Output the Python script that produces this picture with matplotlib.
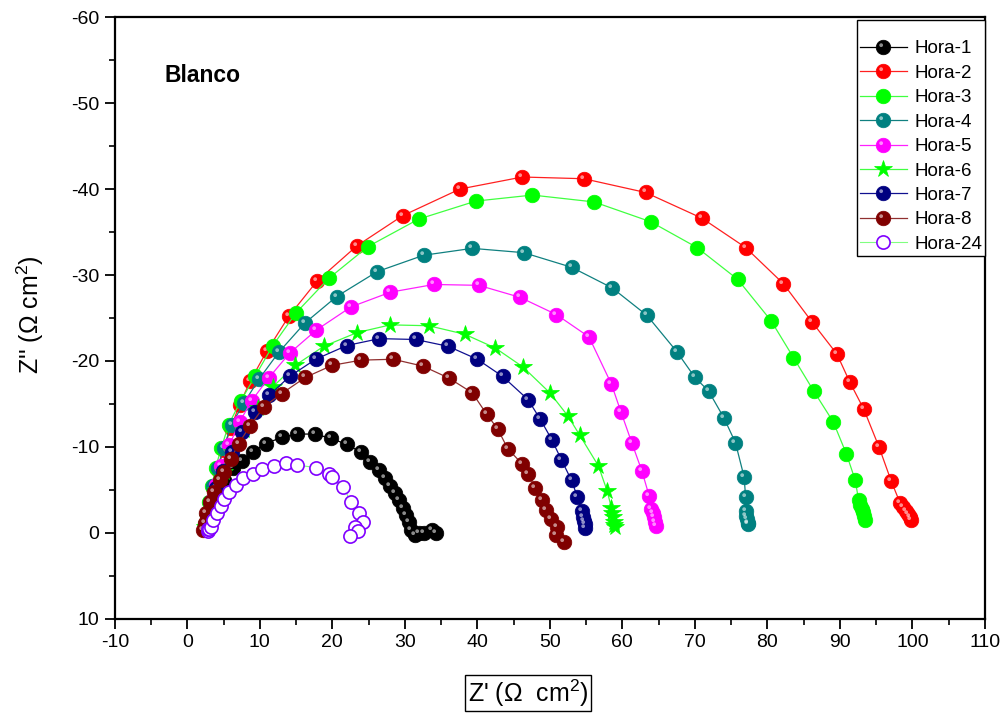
import numpy as np
import matplotlib
matplotlib.use('Agg')
from matplotlib import pyplot as plt
from matplotlib.path import Path
from matplotlib.markers import MarkerStyle
from matplotlib.legend_handler import HandlerTuple

plt.rcParams['font.family'] = ['Liberation Sans', 'DejaVu Sans']
plt.rcParams['axes.unicode_minus'] = False
plt.rcParams['mathtext.fontset'] = 'custom'
plt.rcParams['mathtext.rm'] = 'Liberation Sans'

# Nyquist data, Z' and Z'' (ohm cm2)
h1_x = [2.5, 2.9, 3.5, 4.2, 5.1, 6.3, 7.6, 9.0, 10.8, 13.0, 15.1, 17.6, 19.8, 22.0, 23.9, 25.2, 26.4, 27.3,
        28.0, 28.6, 29.2, 29.7, 30.2, 30.6, 30.9, 31.4, 32.0, 32.7, 33.7, 34.3]
h1_y = [-0.7, -1.9, -3.3, -4.8, -6.2, -7.5, -8.4, -9.4, -10.4, -11.1, -11.5, -11.5, -11.0, -10.3, -9.4, -8.3,
        -7.3, -6.4, -5.5, -4.6, -3.8, -2.9, -2.1, -1.3, -0.3, 0.2, 0.0, 0.0, -0.3, 0.0]

h2_x = [2.5, 2.7, 2.8, 3.1, 3.5, 4.2, 5.0, 6.0, 7.2, 8.7, 11.0, 14.0, 17.9, 23.4, 29.7, 37.6, 46.2, 54.7,
        63.2, 71.0, 77.0, 82.2, 86.2, 89.6, 91.4, 93.3, 95.4, 97.1, 98.3, 98.7, 99.1, 99.4, 99.7, 99.8]
h2_y = [-0.6, -1.2, -2.1, -3.5, -5.2, -7.3, -9.7, -12.2, -14.9, -17.7, -21.2, -25.2, -29.3, -33.4, -36.9,
        -40.0, -41.4, -41.2, -39.6, -36.6, -33.2, -29.0, -24.5, -20.8, -17.5, -14.4, -10.0, -6.0, -3.5, -3.0,
        -2.6, -2.2, -1.9, -1.5]

h3_x = [2.5, 2.7, 3.0, 3.4, 3.9, 4.7, 5.7, 7.4, 9.4, 11.8, 15.0, 19.5, 24.9, 31.9, 39.8, 47.6, 56.1, 63.9,
        70.3, 75.9, 80.5, 83.6, 86.4, 89.1, 90.9, 92.1, 92.6, 92.8, 93.0, 93.2, 93.4, 93.5]
h3_y = [-1.0, -2.2, -3.6, -5.5, -7.6, -9.9, -12.6, -15.4, -18.3, -21.8, -25.6, -29.6, -33.3, -36.5, -38.6,
        -39.3, -38.5, -36.2, -33.2, -29.5, -24.7, -20.4, -16.5, -12.9, -9.2, -6.2, -3.8, -3.3, -2.8, -2.4,
        -2.0, -1.5]

h4_x = [2.5, 2.7, 3.1, 3.5, 4.2, 5.0, 6.1, 7.8, 9.9, 12.6, 16.2, 20.6, 26.2, 32.6, 39.3, 46.4, 53.0, 58.6,
        63.4, 67.5, 70.0, 71.9, 74.0, 75.6, 76.8, 77.0, 77.0, 77.1, 77.2, 77.3, 77.4]
h4_y = [-0.9, -2.1, -3.6, -5.5, -7.6, -9.9, -12.6, -15.1, -17.9, -21.0, -24.4, -27.5, -30.4, -32.3, -33.1,
        -32.6, -30.9, -28.5, -25.3, -21.1, -18.1, -16.5, -13.4, -10.5, -6.5, -4.2, -2.5, -2.0, -1.6, -1.2, -1.0]

h5_x = [2.7, 2.9, 3.4, 3.9, 4.7, 5.8, 7.2, 8.9, 11.2, 14.1, 17.8, 22.6, 28.0, 34.0, 40.2, 45.9, 50.9, 55.4,
        58.5, 59.8, 61.3, 62.7, 63.7, 64.0, 64.2, 64.4, 64.5, 64.6]
h5_y = [-1.2, -2.3, -3.8, -5.6, -7.8, -10.2, -12.9, -15.4, -18.0, -20.9, -23.6, -26.3, -28.0, -28.9, -28.8,
        -27.4, -25.4, -22.8, -17.3, -14.1, -10.5, -7.2, -4.3, -2.8, -2.3, -1.8, -1.3, -0.8]

h6_x = [2.5, 2.8, 3.4, 4.0, 5.0, 6.2, 7.8, 9.7, 11.8, 14.9, 18.8, 23.4, 28.0, 33.3, 38.3, 42.5, 46.3, 50.0,
        52.5, 54.1, 56.7, 57.9, 58.5, 58.6, 58.7, 58.8, 58.9, 59.0]
h6_y = [-0.7, -1.7, -3.3, -5.0, -7.1, -9.4, -12.0, -14.5, -17.0, -19.5, -21.7, -23.3, -24.2, -24.1, -23.1,
        -21.5, -19.3, -16.3, -13.6, -11.4, -7.8, -4.9, -2.9, -2.3, -1.8, -1.3, -0.9, -0.7]

h7_x = [2.5, 2.8, 3.2, 3.9, 4.9, 6.1, 7.6, 9.3, 11.3, 14.1, 17.7, 22.0, 26.5, 31.5, 36.0, 40.0, 43.5, 47.0,
        48.7, 50.3, 51.6, 53.0, 53.8, 54.4, 54.6, 54.7, 54.8, 54.9]
h7_y = [-0.8, -2.0, -3.5, -5.2, -7.2, -9.4, -11.7, -14.1, -16.0, -18.2, -20.2, -21.8, -22.6, -22.5, -21.7,
        -20.2, -18.2, -15.5, -13.2, -10.8, -8.5, -6.1, -4.2, -2.5, -1.9, -1.4, -1.0, -0.6]

h8_x = [2.2, 2.4, 2.6, 3.1, 3.7, 4.5, 5.1, 6.0, 7.1, 8.6, 10.6, 13.0, 16.3, 20.0, 24.0, 28.4, 32.5, 36.1,
        39.3, 41.3, 42.8, 44.2, 46.2, 47.0, 48.0, 48.9, 49.5, 50.1, 51.0, 50.9, 52.0]
h8_y = [-0.3, -1.1, -2.3, -3.6, -4.8, -6.2, -7.1, -8.6, -10.4, -12.4, -14.7, -16.2, -18.1, -19.5, -20.1,
        -20.2, -19.4, -18.0, -16.3, -13.8, -12.1, -9.8, -8.0, -6.9, -5.2, -3.8, -2.7, -1.6, -0.7, 0.2, 1.0]

h24_x = [2.8, 2.9, 3.0, 3.2, 3.5, 4.1, 4.6, 5.1, 5.8, 6.7, 7.7, 9.0, 10.3, 11.9, 13.6, 15.1, 17.7, 19.5, 20.0,
         21.5, 22.6, 23.7, 24.2, 23.1, 23.5, 22.4]
h24_y = [-0.2, -0.4, -0.5, -0.7, -1.5, -2.3, -3.1, -4.0, -4.8, -5.6, -6.4, -6.9, -7.4, -7.8, -8.1, -7.9, -7.6,
         -6.9, -6.5, -5.3, -3.6, -2.3, -1.3, -0.7, -0.2, 0.4]

labels = ['Hora-1', 'Hora-2', 'Hora-3', 'Hora-4', 'Hora-5', 'Hora-6', 'Hora-7', 'Hora-8', 'Hora-24']
xs = [h1_x, h2_x, h3_x, h4_x, h5_x, h6_x, h7_x, h8_x, h24_x]
ys = [h1_y, h2_y, h3_y, h4_y, h5_y, h6_y, h7_y, h8_y, h24_y]

# (marker color, line color, marker, shiny ball?)
styles = [
    ('#000000', '#000000', 'o', True),
    ('#ff0000', '#ff2020', 'o', True),
    ('#00ff00', '#40ff40', 'o', False),
    ('#008080', '#108080', 'o', True),
    ('#ff00ff', '#ff20ff', 'o', True),
    ('#00ff00', '#40ff40', '*', False),
    ('#000080', '#101090', 'o', True),
    ('#800000', '#903030', 'o', True),
    ('#8000ff', '#80ff80', 'o', False),
]

# small highlight dot in the upper left of the marker box (two extra moveto points keep the scale)
t = np.linspace(0, 2 * np.pi, 30)
hl_verts = [(-1, -1), (1, 1)] + [(-0.32 + 0.26 * np.cos(a), 0.32 + 0.26 * np.sin(a)) for a in t]
hl_codes = [Path.MOVETO, Path.MOVETO, Path.MOVETO] + [Path.LINETO] * (len(t) - 2) + [Path.CLOSEPOLY]
hl_marker = MarkerStyle(Path(hl_verts, hl_codes))

fig = plt.figure(figsize=(10.07, 7.13), dpi=100)
ax = fig.add_axes([0.114, 0.132, 0.864, 0.844])

handles = []
for i in range(len(labels)):
    mc, lc, mk, shiny = styles[i]
    if labels[i] == 'Hora-24':
        ln, = ax.plot(xs[i], ys[i], color=lc, lw=0.8, marker='o', ms=9.5, mfc='white',
                      mec=mc, mew=1.2)
        handles.append(ln)
        continue
    ms = 13 if mk == '*' else 10.5
    ln, = ax.plot(xs[i], ys[i], color=lc, lw=0.9, marker=mk, ms=ms, mfc=mc, mec=mc, mew=0.5)
    if shiny:
        hl, = ax.plot(xs[i], ys[i], ls='none', marker=hl_marker, ms=10.5, mfc='white',
                      mec='none', alpha=0.55)
        handles.append((ln, hl))
    else:
        handles.append(ln)

ax.set_xlim(-10, 110)
ax.set_ylim(10, -60)
ax.set_xticks(np.arange(-10, 111, 10))
ax.set_yticks(np.arange(-60, 11, 10))
ax.set_xticks(np.arange(-5, 110, 10), minor=True)
ax.set_yticks(np.arange(-55, 10, 10), minor=True)
ax.tick_params(which='major', direction='out', length=7, width=1.3, labelsize=14, pad=4)
ax.tick_params(which='minor', direction='out', length=4, width=1.2)
for s in ax.spines.values():
    s.set_linewidth(1.6)

ax.set_xlabel("Z' (Ω  cm$^2$)", fontsize=18,
              bbox=dict(boxstyle='square,pad=0.1', fc='white', ec='black', lw=1))
ax.xaxis.set_label_coords(0.475, -0.097)
ax.set_ylabel("Z'' (Ω cm$^2$)", fontsize=18)
ax.yaxis.set_label_coords(-0.079, 0.505)

ax.text(-3.1, -53.2, 'Blanco', fontsize=16.5, fontweight='bold', va='center', ha='left')

leg = ax.legend(handles, labels, loc='upper right', bbox_to_anchor=(1.0, 0.995), fontsize=13.5,
                handler_map={tuple: HandlerTuple(ndivide=1)}, frameon=True, fancybox=False,
                edgecolor='black', framealpha=1, handlelength=2.5, labelspacing=0.39,
                borderpad=0.15, handletextpad=0.4, borderaxespad=0, title=' ', title_fontsize=7)
leg.get_frame().set_linewidth(1.0)

fig.savefig('out.png', dpi=100)
